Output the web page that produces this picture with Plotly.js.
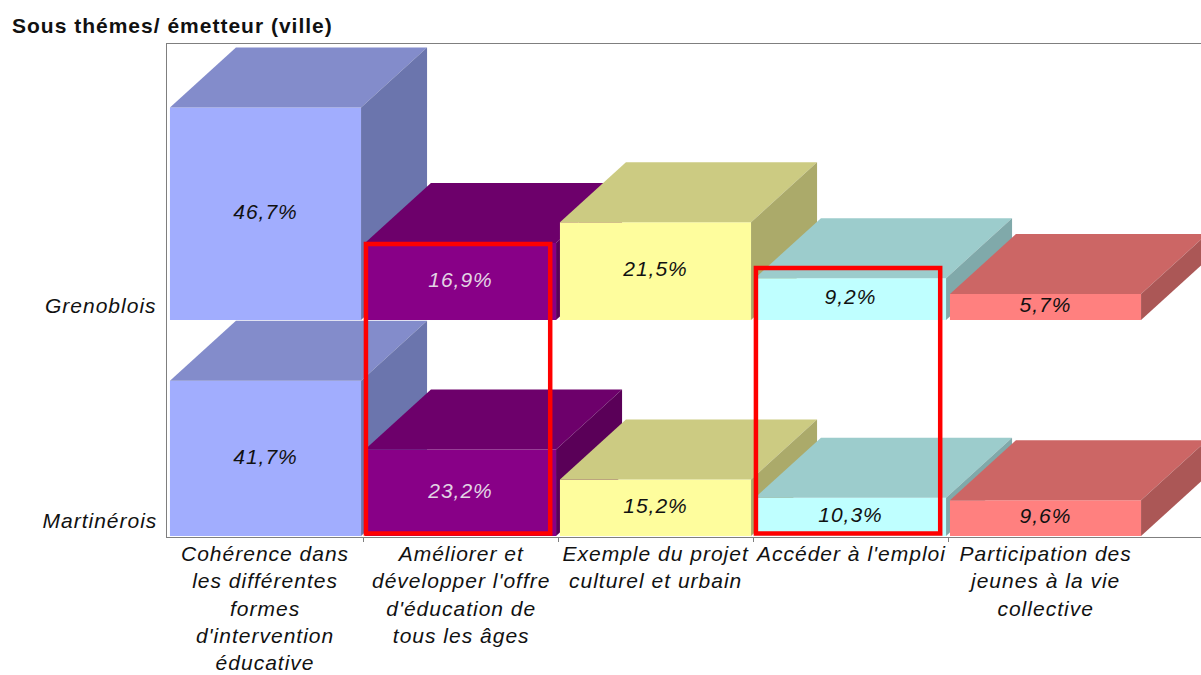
<!DOCTYPE html>
<html><head><meta charset="utf-8">
<script src="https://cdn.plot.ly/plotly-3.0.1.min.js"></script>
<style>html,body{margin:0;padding:0;background:#fff;} #chart{width:1201px;height:675px;} #chart text{letter-spacing:1px;}</style>
</head><body><div id="chart"></div>
<script>
// ---------- data ----------
const categories = [
  "Cohérence dans<br>les différentes<br>formes<br>d'intervention<br>éducative",
  "Améliorer et<br>développer l'offre<br>d'éducation de<br>tous les âges",
  "Exemple du projet<br>culturel et urbain",
  "Accéder à l'emploi",
  "Participation des<br>jeunes à la vie<br>collective"
];
const rowNames = ["Grenoblois", "Martinérois"];
const grenoblois = [46.7, 16.9, 21.5, 9.2, 5.7];
const martinerois = [41.7, 23.2, 15.2, 10.3, 9.6];
const highlighted = [1, 3];
const chartTitle = "Sous thémes/ émetteur (ville)";

// ---------- styles ----------
const frontColors = ["#A1ADFE", "#880087", "#FEFD9D", "#BFFFFF", "#FF807F"];
const topColors   = ["#838CCB", "#6D006B", "#CCCB82", "#9CCCCC", "#CC6665"];
const sideColors  = ["#6B75AD", "#5A0058", "#ABAA6A", "#80A9AA", "#AB5756"];
const labelColors = ["#111111", "#E2D4E4", "#111111", "#111111", "#111111"];
const FONT = "Liberation Sans, Arial, sans-serif";

// ---------- geometry (pixels) ----------
const W = 1201, H = 675;
const M = {l: 167, r: 0, t: 44, b: 138};
const plotTop = M.t, plotBottom = H - M.b;          // 44 .. 537
const catPx = 195;                                  // width of one category
const halfBar = 0.49;                               // half width of a bar, category units
const depthXpx = 66, depthYpx = 60;                 // 3-D depth offset
const xRange = [-0.5 - 1 / catPx, -0.5 - 1 / catPx + (W - M.l - M.r) / catPx];
const dx = depthXpx / catPx;

const rowsCfg = [
  {name: rowNames[0], values: grenoblois, axis: "y2", basePx: 320, pxPerPct: 4.55},
  {name: rowNames[1], values: martinerois, axis: "y", basePx: 536, pxPerPct: 3.724}
];
rowsCfg.forEach(r => {
  r.range = [(r.basePx - plotBottom) / r.pxPerPct, (r.basePx - plotTop) / r.pxPerPct];
  r.dy = depthYpx / r.pxPerPct;
});
const pxToRow = (r, px) => (r.basePx - px) / r.pxPerPct;

// ---------- traces: painter's order, back row first, left to right ----------
const traces = [];
function poly(xs, ys, color, axis) {
  traces.push({type: "scatter", mode: "none", x: xs.concat([xs[0]]), y: ys.concat([ys[0]]),
    fill: "toself", fillcolor: color, yaxis: axis, xaxis: "x", hoverinfo: "skip", showlegend: false});
}
rowsCfg.forEach(r => {
  r.values.forEach((v, i) => {
    const x0 = i - halfBar, x1 = i + halfBar, d = r.dy;
    poly([x0, x1, x1, x0], [0, 0, v, v], frontColors[i], r.axis);
    poly([x0, x1, x1 + dx, x0 + dx], [v, v, v + d, v + d], topColors[i], r.axis);
    poly([x1, x1 + dx, x1 + dx, x1], [0, d, v + d, v], sideColors[i], r.axis);
  });
});
rowsCfg.forEach(r => {
  traces.push({type: "scatter", mode: "text", yaxis: r.axis, xaxis: "x",
    x: r.values.map((v, i) => i), y: r.values.map(v => v / 2),
    text: r.values.map(v => v.toFixed(1).replace(".", ",") + "%"),
    textposition: "middle center", cliponaxis: false, hoverinfo: "skip", showlegend: false,
    textfont: {family: FONT, size: 21, style: "italic", color: r.values.map((v, i) => labelColors[i])}});
});

// ---------- highlight boxes ----------
const rowG = rowsCfg[0], rowM = rowsCfg[1];
const boxTopPx = {1: 244, 3: 268};
const shapes = highlighted.map(i => ({
  type: "rect", xref: "x", yref: "y", layer: "above",
  x0: i - halfBar + 0.005, x1: i + halfBar - 0.03,
  y0: pxToRow(rowM, 533.5), y1: pxToRow(rowM, boxTopPx[i]),
  line: {color: "#FF0000", width: 4.5}, fillcolor: "rgba(0,0,0,0)"
}));

// ---------- annotations ----------
const annotations = [];
categories.forEach((c, i) => annotations.push({
  text: c, x: i, xref: "x", y: 0, yref: "paper", yanchor: "top", xanchor: "center",
  yshift: -3, showarrow: false, align: "center",
  font: {family: FONT, size: 21, style: "italic", color: "#111111"}
}));
const rowLabelPx = [305, 520];
rowsCfg.forEach((r, k) => annotations.push({
  text: r.name, x: 0, xref: "paper", y: pxToRow(r, rowLabelPx[k]), yref: r.axis,
  xanchor: "right", yanchor: "middle", xshift: -13, showarrow: false,
  font: {family: FONT, size: 21, style: "italic", color: "#111111"}
}));

const layout = {
  width: W, height: H, margin: M, paper_bgcolor: "#ffffff", plot_bgcolor: "#ffffff",
  showlegend: false,
  title: {text: "<b>" + chartTitle + "</b>", xref: "container", yref: "container",
    x: 12 / W, xanchor: "left", y: 1 - 26 / H, yanchor: "middle",
    font: {family: FONT, size: 21, color: "#111111"}},
  xaxis: {range: xRange, showgrid: false, zeroline: false, showline: true, mirror: true,
    linecolor: "#7F7F7F", linewidth: 1, ticks: "outside", ticklen: 4, tickcolor: "#7F7F7F",
    tickvals: categories.slice(1).map((c, i) => i + 0.5), showticklabels: false, fixedrange: true},
  yaxis: {range: rowM.range, showgrid: false, zeroline: false, showline: true,
    linecolor: "#7F7F7F", linewidth: 1, showticklabels: false, ticks: "", fixedrange: true},
  yaxis2: {range: rowG.range, overlaying: "y", showgrid: false, zeroline: false, showline: false,
    showticklabels: false, ticks: "", fixedrange: true},
  shapes: shapes, annotations: annotations
};

Plotly.newPlot("chart", traces, layout, {staticPlot: true, displayModeBar: false});
</script></body></html>
